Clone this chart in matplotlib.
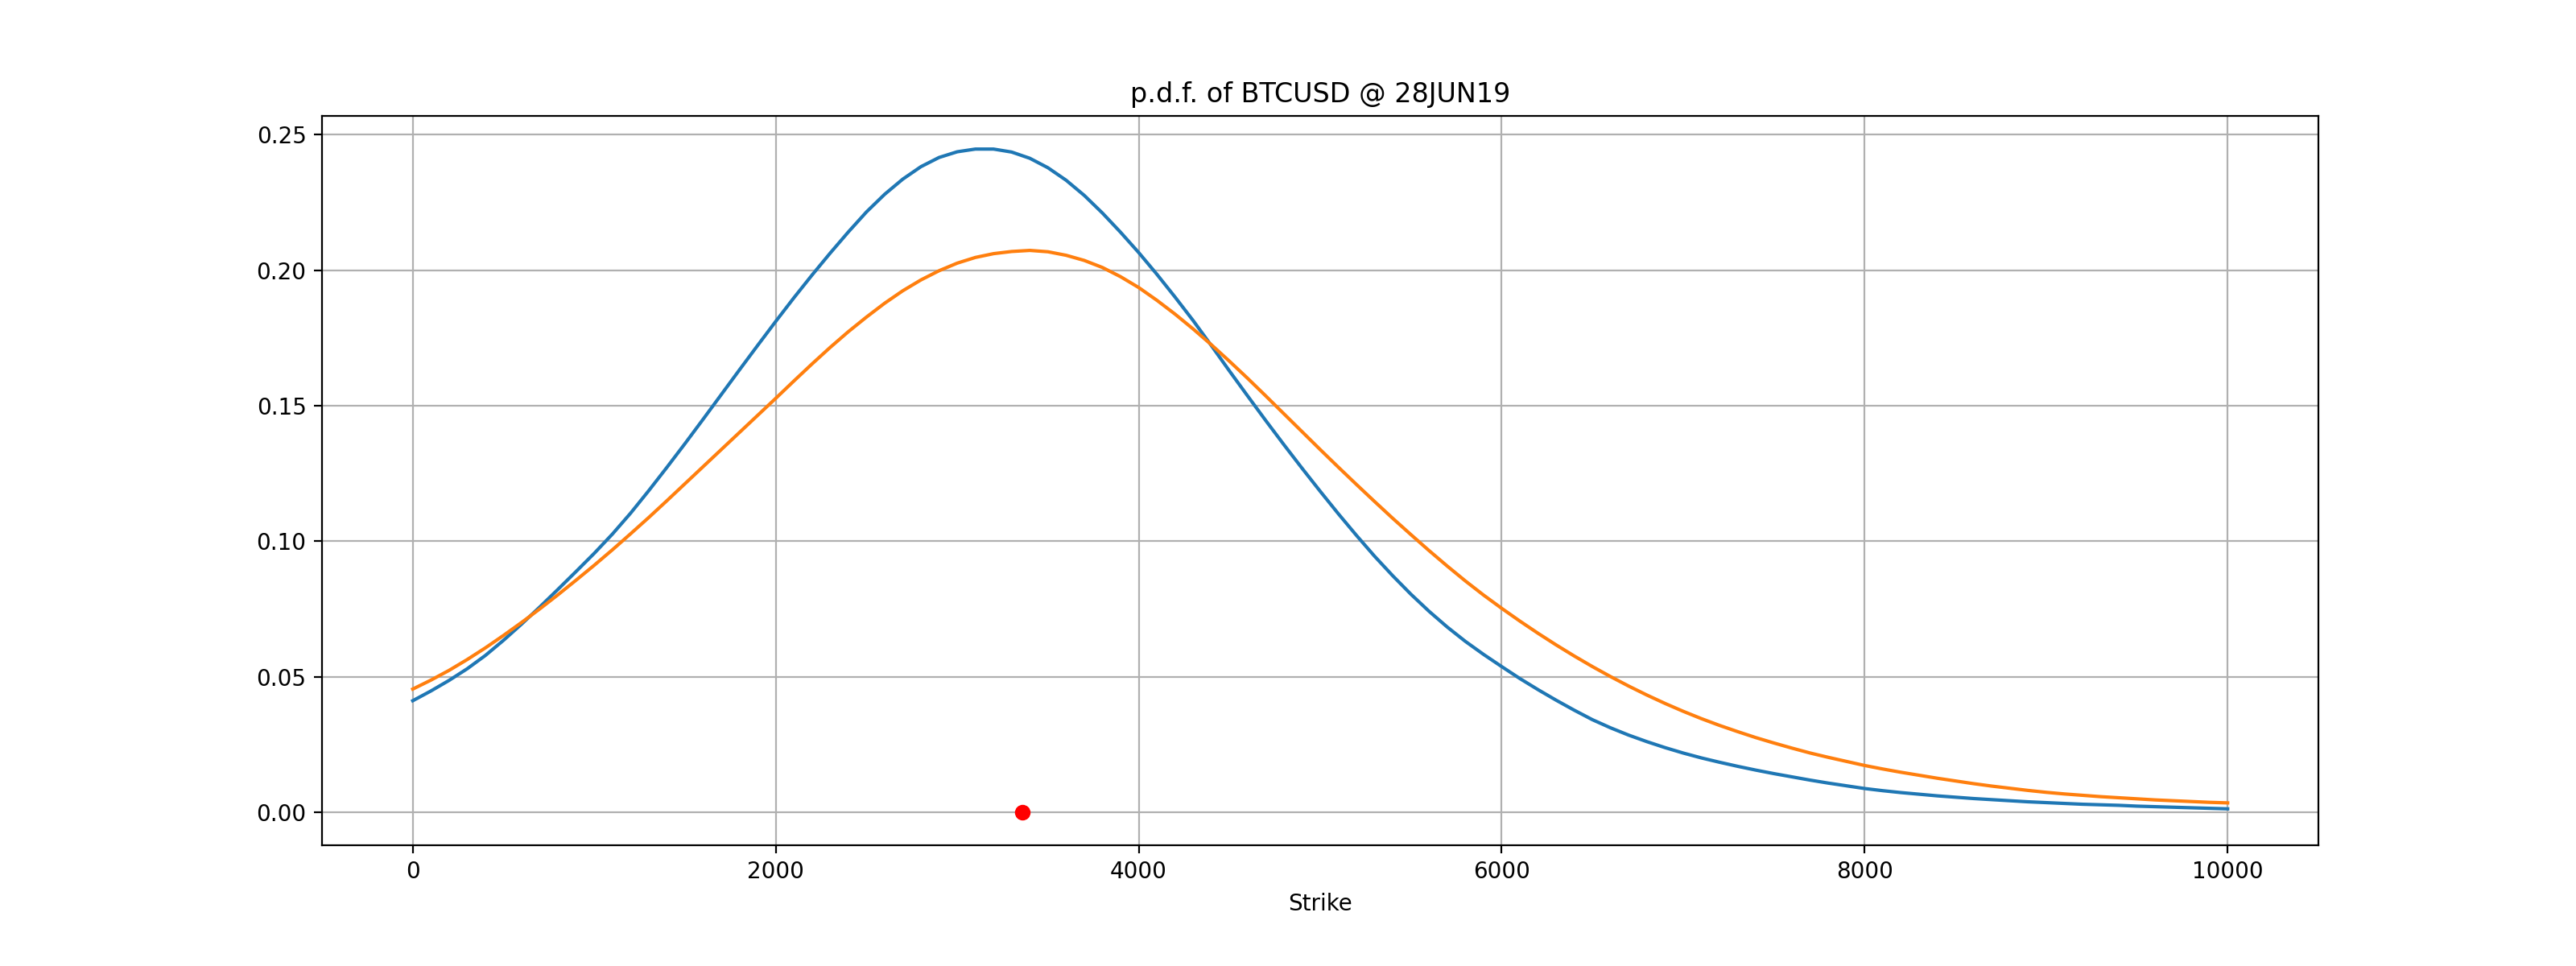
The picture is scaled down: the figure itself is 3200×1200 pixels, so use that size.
import matplotlib
matplotlib.use("Agg")
import matplotlib.pyplot as plt

strikes = list(range(0, 10001, 100))

pdf_blue = [
    0.0411, 0.0447, 0.0486, 0.0529, 0.0578, 0.0634, 0.0694, 0.0757, 0.0822, 0.0888,
    0.0955, 0.1026, 0.1103, 0.1186, 0.1272, 0.1360, 0.1450, 0.1541, 0.1632, 0.1722,
    0.1811, 0.1898, 0.1982, 0.2063, 0.2141, 0.2215, 0.2280, 0.2336, 0.2382, 0.2416,
    0.2437, 0.2447, 0.2447, 0.2436, 0.2413, 0.2378, 0.2332, 0.2276, 0.2211, 0.2140,
    0.2065, 0.1985, 0.1901, 0.1814, 0.1722, 0.1628, 0.1536, 0.1445, 0.1356, 0.1269,
    0.1184, 0.1101, 0.1021, 0.0944, 0.0872, 0.0804, 0.0741, 0.0683, 0.0630, 0.0582,
    0.0537, 0.0493, 0.0452, 0.0413, 0.0376, 0.0341, 0.0311, 0.0284, 0.0260, 0.0238,
    0.0218, 0.0200, 0.0184, 0.0169, 0.0155, 0.0142, 0.0130, 0.0118, 0.0107, 0.0097,
    0.0087, 0.0079, 0.0072, 0.0066, 0.0060, 0.0055, 0.0050, 0.0046, 0.0042, 0.0038,
    0.0035, 0.0032, 0.0029, 0.0027, 0.0025, 0.0022, 0.0020, 0.0018, 0.0016, 0.0014,
    0.0012]

pdf_orange = [
    0.0454, 0.0487, 0.0523, 0.0563, 0.0606, 0.0652, 0.0700, 0.0750, 0.0802, 0.0856,
    0.0911, 0.0968, 0.1027, 0.1087, 0.1149, 0.1212, 0.1275, 0.1338, 0.1401, 0.1464,
    0.1527, 0.1591, 0.1654, 0.1715, 0.1773, 0.1827, 0.1878, 0.1924, 0.1964, 0.1998,
    0.2026, 0.2047, 0.2061, 0.2069, 0.2073, 0.2068, 0.2055, 0.2036, 0.2010, 0.1976,
    0.1936, 0.1889, 0.1838, 0.1783, 0.1725, 0.1664, 0.1601, 0.1536, 0.1470, 0.1404,
    0.1338, 0.1273, 0.1209, 0.1146, 0.1084, 0.1024, 0.0965, 0.0908, 0.0853, 0.0801,
    0.0752, 0.0705, 0.0660, 0.0617, 0.0576, 0.0537, 0.0500, 0.0465, 0.0432, 0.0401,
    0.0372, 0.0345, 0.0320, 0.0297, 0.0275, 0.0255, 0.0236, 0.0218, 0.0202, 0.0187,
    0.0172, 0.0159, 0.0147, 0.0136, 0.0125, 0.0115, 0.0105, 0.0096, 0.0088, 0.0080,
    0.0073, 0.0067, 0.0062, 0.0057, 0.0053, 0.0049, 0.0045, 0.0042, 0.0039, 0.0036,
    0.0034]

spot_x = [3357]
spot_y = [0.0]

title = "p.d.f. of BTCUSD @ 28JUN19"
xlabel = "Strike"

fig = plt.figure(figsize=(16, 6), dpi=200)
ax = fig.add_subplot(111)
fig.subplots_adjust(bottom=0.125, top=0.88)
ax.plot(strikes, pdf_blue)
ax.plot(strikes, pdf_orange)
ax.plot(spot_x, spot_y, 'ro')
ax.set_title(title)
ax.set_xlabel(xlabel)
ax.grid(True)
fig.savefig("out.png", dpi=200)
